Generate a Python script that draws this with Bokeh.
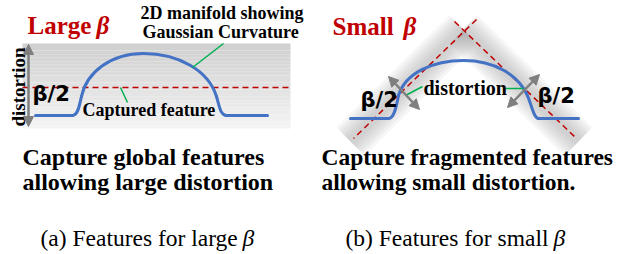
import numpy as np
from bokeh.plotting import figure
from bokeh.models import Range1d, Arrow, NormalHead, ColumnDataSource
from bokeh.core.properties import value
from bokeh.embed import file_html
from bokeh.resources import INLINE

# ---------------- diagram data (pixel coordinates of the scene) ----------------
# left panel: shaded box and flat/dome manifold
BOX_LEFT = [22, 290, 43, 128]          # x0, x1, y_top, y_bottom
LEFT_FLAT_X0 = [35, 226]
LEFT_FLAT_X1 = [72, 267]
LEFT_FLAT_Y = [115, 115]
LEFT_BEZ_X0 = [72, 81, 143, 216]
LEFT_BEZ_Y0 = [115, 96, 53, 96]
LEFT_BEZ_X1 = [81, 143, 216, 226]
LEFT_BEZ_Y1 = [96, 53, 96, 115]
LEFT_BEZ_CX0 = [78, 86, 178, 219]
LEFT_BEZ_CY0 = [115, 72, 53, 106]
LEFT_BEZ_CX1 = [79, 110, 208, 220]
LEFT_BEZ_CY1 = [103, 53, 70, 115]
LEFT_DASH = [22, 288, 87]               # x0, x1, y

# right panel: inverted-V bands and manifold
BAND_TOP = [463, 29]
BAND_BOTTOMS_X = [350, 578]
BAND_BOTTOMS_Y = [141, 141]
RIGHT_DASH_X0 = [476, 454]
RIGHT_DASH_Y0 = [19, 21]
RIGHT_DASH_X1 = [353, 576]
RIGHT_DASH_Y1 = [138, 138]
RIGHT_FLAT_X0 = [350, 538]
RIGHT_FLAT_X1 = [388, 578]
RIGHT_FLAT_Y = [118, 118]
RIGHT_BEZ_X0 = [388, 398, 463, 526]
RIGHT_BEZ_Y0 = [118, 95, 60, 93]
RIGHT_BEZ_X1 = [398, 463, 526, 538]
RIGHT_BEZ_Y1 = [95, 60, 93, 118]
RIGHT_BEZ_CX0 = [394, 405, 495, 531]
RIGHT_BEZ_CY0 = [118, 72, 60, 103]
RIGHT_BEZ_CX1 = [396, 433, 517, 533]
RIGHT_BEZ_CY1 = [105, 60, 75, 118]

# gray double arrows (x0, y0, x1, y1)
ARROWS = [(28, 44, 28, 126), (388, 76, 419, 109), (539, 74, 507, 107)]
# green leader lines
GREEN_X0 = [127, 192, 422, 503]
GREEN_Y0 = [102, 67, 86, 88]
GREEN_X1 = [120, 223, 405, 523]
GREEN_Y1 = [87, 43, 95, 88]

# texts (y = baseline)
TITLE_TEXTS = ["Large", "Small"]
TITLE_X = [27, 332]
BETA_X = [96, 403]
TITLE_Y = [31, 32]
NOTE_TEXTS = ["2D manifold showing", "Gaussian Curvature", "Captured feature", "distortion"]
NOTE_X = [140, 142, 82, 423]
NOTE_Y = [18, 37, 115, 93]
NOTE_SIZE = ["18px", "18px", "18px", "20px"]
BETA2_X = [32, 360, 537]
BETA2_Y = [99, 105, 101]
DESC_TEXTS = ["Capture global features", "allowing large distortion",
              "Capture fragmented features", "allowing small distortion."]
DESC_X = [22, 22, 321, 321]
DESC_Y = [162, 187, 162, 187]
DESC_SIZE = ["24px", "24px", "23.5px", "23.5px"]
CAPTION_TEXTS = ["(a) Features for large", "(b) Features for small"]
CAPTION_X = [40, 345]
CAPTION_BETA_X = [242, 553]
CAPTION_Y = [243, 243]
SIDE_LABEL = ["distortion"]
SIDE_X = [24]
SIDE_Y = [126]

TEXT_DY = -6   # compensation for the renderer's baseline placement

RED = "#c00000"
BLUE = "#4472c4"
GREEN = "#00b050"
GRAY = "#7f7f7f"
SERIF = value("Liberation Serif")
SANS = value("DejaVu Sans")

def ty(ys):
    return [y + TEXT_DY for y in ys]

p = figure(width=618, height=254, x_range=Range1d(0, 618), y_range=Range1d(254, 0),
           output_backend="svg", toolbar_location=None, min_border=0)
p.axis.visible = False
p.xgrid.visible = False
p.ygrid.visible = False
p.outline_line_color = None

# ---- left shaded box: vertical gradient strips
x0, x1, yt, yb = BOX_LEFT
n = 24
edges = np.linspace(yt, yb, n + 1)
shades = np.linspace(0xd0, 0xf4, n).astype(int)
cols = ["#%02x%02x%02x" % (s, s, s) for s in shades]
p.quad(left=[x0] * n, right=[x1] * n, top=list(edges[:-1]), bottom=list(edges[1:]),
       fill_color=cols, line_color=None)

# ---- right bands: nested polygons for a soft gradient
tx, tyy = BAND_TOP
for bx, by in zip(BAND_BOTTOMS_X, BAND_BOTTOMS_Y):
    d = np.array([bx - tx, by - tyy], float)
    u = d / np.hypot(*d)
    nrm = np.array([-u[1], u[0]])
    for hw in [20, 17, 14, 11, 8, 5]:
        xs = [tx + nrm[0] * hw, bx + nrm[0] * hw, bx - nrm[0] * hw, tx - nrm[0] * hw]
        ys = [tyy + nrm[1] * hw, by + nrm[1] * hw, by - nrm[1] * hw, tyy - nrm[1] * hw]
        p.patch(xs, ys, fill_color="#9a9a9a", fill_alpha=0.085, line_color=None)

# ---- red dashed guide lines
p.segment(x0=[LEFT_DASH[0]], y0=[LEFT_DASH[2]], x1=[LEFT_DASH[1]], y1=[LEFT_DASH[2]],
          line_color=RED, line_width=1.5, line_dash="6 4")
p.segment(x0=RIGHT_DASH_X0, y0=RIGHT_DASH_Y0, x1=RIGHT_DASH_X1, y1=RIGHT_DASH_Y1,
          line_color=RED, line_width=1.5, line_dash="6 4")

# ---- blue manifolds
for fx0, fx1, fy, bz in [
    (LEFT_FLAT_X0, LEFT_FLAT_X1, LEFT_FLAT_Y,
     (LEFT_BEZ_X0, LEFT_BEZ_Y0, LEFT_BEZ_X1, LEFT_BEZ_Y1, LEFT_BEZ_CX0, LEFT_BEZ_CY0, LEFT_BEZ_CX1, LEFT_BEZ_CY1)),
    (RIGHT_FLAT_X0, RIGHT_FLAT_X1, RIGHT_FLAT_Y,
     (RIGHT_BEZ_X0, RIGHT_BEZ_Y0, RIGHT_BEZ_X1, RIGHT_BEZ_Y1, RIGHT_BEZ_CX0, RIGHT_BEZ_CY0, RIGHT_BEZ_CX1, RIGHT_BEZ_CY1)),
]:
    p.segment(x0=fx0, y0=fy, x1=fx1, y1=fy, line_color=BLUE, line_width=3, line_cap="round")
    p.bezier(x0=bz[0], y0=bz[1], x1=bz[2], y1=bz[3], cx0=bz[4], cy0=bz[5], cx1=bz[6], cy1=bz[7],
             line_color=BLUE, line_width=3, line_cap="round")

# ---- green leaders
p.segment(x0=GREEN_X0, y0=GREEN_Y0, x1=GREEN_X1, y1=GREEN_Y1, line_color=GREEN, line_width=1.5)

# ---- gray double arrows
for ax0, ay0, ax1, ay1 in ARROWS:
    p.add_layout(Arrow(x_start=ax0, y_start=ay0, x_end=ax1, y_end=ay1,
                       line_color=GRAY, line_width=2.5,
                       start=NormalHead(size=10, fill_color=GRAY, line_color=GRAY),
                       end=NormalHead(size=10, fill_color=GRAY, line_color=GRAY)))

# ---- serif texts
p.text(x=TITLE_X, y=ty(TITLE_Y), text=TITLE_TEXTS, text_font=SERIF, text_font_style="bold",
       text_font_size="25px", text_color=RED, text_baseline="alphabetic")
p.text(x=BETA_X, y=ty(TITLE_Y), text=["β", "β"], text_font=SERIF, text_font_style="bold italic",
       text_font_size="25px", text_color=RED, text_baseline="alphabetic")
src = ColumnDataSource(dict(x=NOTE_X, y=ty(NOTE_Y), t=NOTE_TEXTS, s=NOTE_SIZE))
p.text(x="x", y="y", text="t", text_font_size="s", source=src, text_font=SERIF,
       text_font_style="bold", text_color="black", text_baseline="alphabetic")
src2 = ColumnDataSource(dict(x=DESC_X, y=ty(DESC_Y), t=DESC_TEXTS, s=DESC_SIZE))
p.text(x="x", y="y", text="t", text_font_size="s", source=src2, text_font=SERIF,
       text_font_style="bold", text_color="black", text_baseline="alphabetic")
p.text(x=CAPTION_X, y=ty(CAPTION_Y), text=CAPTION_TEXTS, text_font=SERIF,
       text_font_style="normal", text_font_size="23.5px", text_color="black", text_baseline="alphabetic")
p.text(x=CAPTION_BETA_X, y=ty(CAPTION_Y), text=["β", "β"], text_font=SERIF, text_font_style="italic",
       text_font_size="23.5px", text_color="black", text_baseline="alphabetic")
# rotated side label: the baseline offset acts horizontally after rotation
p.text(x=[x + TEXT_DY for x in SIDE_X], y=SIDE_Y, text=SIDE_LABEL, angle=np.pi / 2, text_font=SERIF,
       text_font_style="bold", text_font_size="19px", text_color="black", text_baseline="alphabetic")
# ---- sans texts
p.text(x=BETA2_X, y=ty(BETA2_Y), text=["β/2"] * 3, text_font=SANS, text_font_style="bold",
       text_font_size="21px", text_color="black", text_baseline="alphabetic")

open("out.html", "w").write(file_html(p, INLINE))
